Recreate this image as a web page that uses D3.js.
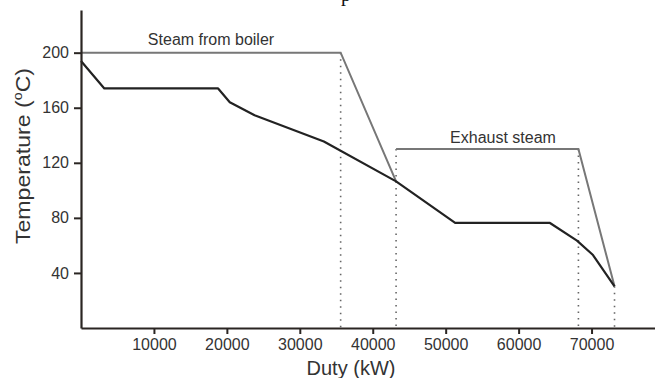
<!DOCTYPE html>
<html>
<head>
<meta charset="utf-8">
<script src="https://cdn.jsdelivr.net/npm/d3@7"></script>
<style>
  body { margin: 0; background: #fff; }
  text { font-family: "Liberation Sans", Arial, sans-serif; fill: #333; }
</style>
</head>
<body>
<script>
// cold stream (composite curve)
const coldDuty = [0, 3200, 18800, 20400, 23800, 33300, 43200, 51300, 64300, 68000, 70200, 73150];
const coldTemp = [194, 174, 174, 164, 154.5, 135.5, 106.5, 76.3, 76.3, 63.5, 53, 30.3];

// hot streams
const boilerDuty = [0, 35600, 43200];
const boilerTemp = [200, 200, 106.5];
const exhaustDuty = [43200, 68200, 73150];
const exhaustTemp = [130, 130, 30.3];

// dotted guides
const guideDuty = [35600, 43200, 68200, 73150];
const guideTemp = [200, 130, 130, 30.3];

const xTicks = [10000, 20000, 30000, 40000, 50000, 60000, 70000];
const yTicks = [40, 80, 120, 160, 200];

const w = 655, h = 378;

const x = d3.scaleLinear().domain([0, 78700]).range([81, 655]);
const y = d3.scaleLinear().domain([0, 231]).range([328, 10]);

const svg = d3.select("body").append("svg")
  .attr("width", w)
  .attr("height", h);

const line = d3.line().x(d => x(d[0])).y(d => y(d[1]));
const zip = (a, b) => a.map((v, i) => [v, b[i]]);

// caption letter cut off at the top edge (as in the source)
svg.append("text")
  .attr("x", 341)
  .attr("y", 0.5)
  .style("font-family", "'Liberation Serif', serif")
  .style("font-size", "20px")
  .style("fill", "#111")
  .text("p");

// dotted verticals
svg.selectAll("line.guide")
  .data(zip(guideDuty, guideTemp))
  .enter()
  .append("line")
  .attr("class", "guide")
  .attr("x1", d => x(d[0]))
  .attr("x2", d => x(d[0]))
  .attr("y1", d => y(d[1]))
  .attr("y2", y(0))
  .attr("stroke", "#666")
  .attr("stroke-width", 1.6)
  .attr("stroke-dasharray", "1.5,5");

// hot streams
[zip(boilerDuty, boilerTemp), zip(exhaustDuty, exhaustTemp)].forEach(pts => {
  svg.append("path")
    .attr("d", line(pts))
    .attr("fill", "none")
    .attr("stroke", "#777")
    .attr("stroke-width", 2);
});

// cold composite
svg.append("path")
  .attr("d", line(zip(coldDuty, coldTemp)))
  .attr("fill", "none")
  .attr("stroke", "#222")
  .attr("stroke-width", 2.2)
  .attr("stroke-linejoin", "round");

// axes
const xAxis = svg.append("g")
  .attr("transform", `translate(0,${y(0)})`)
  .call(d3.axisBottom(x).tickValues(xTicks).tickFormat(d3.format("d")).tickSize(6).tickSizeOuter(0));
const yAxis = svg.append("g")
  .attr("transform", `translate(${x(0)},0)`)
  .call(d3.axisLeft(y).tickValues(yTicks).tickSize(7).tickSizeOuter(0));

[xAxis, yAxis].forEach(g => {
  g.select(".domain").attr("stroke", "#2a2522").attr("stroke-width", 2.2);
  g.selectAll(".tick line").attr("stroke", "#2a2522").attr("stroke-width", 2);
  g.selectAll(".tick text")
    .style("font-family", "'Liberation Sans', Arial, sans-serif")
    .style("font-size", "16px")
    .attr("fill", "#333");
});
xAxis.selectAll(".tick text").attr("y", 11);
yAxis.selectAll(".tick text").attr("x", -12);

// axis titles
svg.append("text")
  .attr("x", 351)
  .attr("y", 375)
  .attr("text-anchor", "middle")
  .style("font-size", "20px")
  .text("Duty (kW)");

const yt = svg.append("text")
  .attr("transform", "translate(30,156) rotate(-90) scale(1.1,1)")
  .attr("text-anchor", "middle")
  .style("font-size", "21px");
yt.append("tspan").text("Temperature (");
yt.append("tspan").attr("dy", -8).style("font-size", "13px").text("o");
yt.append("tspan").attr("dy", 8).text("C)");

// stream labels
svg.append("text")
  .attr("x", 211)
  .attr("y", 45)
  .attr("text-anchor", "middle")
  .style("font-size", "16px")
  .text("Steam from boiler");

svg.append("text")
  .attr("x", 503)
  .attr("y", 142.5)
  .attr("text-anchor", "middle")
  .style("font-size", "16px")
  .text("Exhaust steam");
</script>
</body>
</html>
